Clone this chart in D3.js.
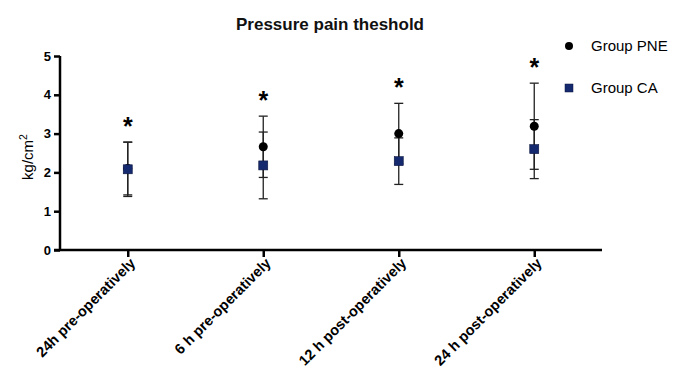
<!DOCTYPE html>
<html>
<head>
<meta charset="utf-8">
<script src="https://cdn.jsdelivr.net/npm/d3@7/dist/d3.min.js"></script>
<style>
  html, body { margin: 0; padding: 0; background: #ffffff; }
  svg { display: block; font-family: "Liberation Sans", Arial, Helvetica, sans-serif; }
</style>
</head>
<body>
<svg id="chart" width="685" height="387"></svg>
<script>
// ---- data ----
const categories = ["24h pre-operatively", "6 h pre-operatively", "12 h post-operatively", "24 h post-operatively"];
const pneMean = [2.10, 2.66, 3.00, 3.19];
const pneSD   = [0.68, 0.79, 0.78, 1.11];
const caMean  = [2.08, 2.18, 2.29, 2.60];
const caSD    = [0.70, 0.86, 0.60, 0.76];
const significant = [true, true, true, true];
const yTicks = [0, 1, 2, 3, 4, 5];
const seriesNames = ["Group PNE", "Group CA"];

(function () {
const svg = d3.select("#chart");
const pLeft = 60, pRight = 602, pTop = 56, pBottom = 250;

const x = d3.scalePoint().domain(categories).range([pLeft, pRight]).padding(0.5);
const y = d3.scaleLinear().domain([0, 5]).range([pBottom, pTop]);

// title
svg.append("text")
  .attr("x", 330).attr("y", 30)
  .attr("text-anchor", "middle")
  .attr("font-size", 17).attr("font-weight", "bold")
  .attr("fill", "#111")
  .text("Pressure pain theshold");

// y axis
const yAxis = svg.append("g")
  .attr("transform", `translate(${pLeft},0)`)
  .call(d3.axisLeft(y).tickValues(yTicks).tickSize(6).tickPadding(3).tickFormat(d3.format("d")));
yAxis.select(".domain").attr("stroke", "#000").attr("stroke-width", 2.5)
  .attr("d", `M0,${pTop}V${pBottom}`);
yAxis.selectAll(".tick line").attr("stroke", "#000").attr("stroke-width", 2.5);
yAxis.selectAll(".tick text").attr("font-size", 13).attr("font-weight", "bold").attr("fill", "#000")
  .attr("font-family", "Liberation Sans, Arial, sans-serif");

// x axis
const xAxis = svg.append("g")
  .attr("transform", `translate(0,${pBottom})`)
  .call(d3.axisBottom(x).tickSize(7).tickPadding(4));
xAxis.select(".domain").attr("stroke", "#000").attr("stroke-width", 2.5)
  .attr("d", `M${pLeft - 6},0H${pRight}`);
xAxis.selectAll(".tick line").attr("stroke", "#000").attr("stroke-width", 2.5);
xAxis.selectAll(".tick text")
  .attr("font-size", 14.5).attr("font-weight", "bold").attr("fill", "#000")
  .attr("font-family", "Liberation Sans, Arial, sans-serif")
  .attr("text-anchor", "end")
  .attr("dy", null)
  .attr("transform", "translate(8,14) rotate(-45)")
  .attr("y", 0).attr("x", 0);

// y label
svg.append("text")
  .attr("transform", "translate(33,157) rotate(-90)")
  .attr("text-anchor", "middle")
  .attr("font-size", 15).attr("fill", "#000")
  .html('kg/cm<tspan dy="-6" font-size="10.5">2</tspan>');

// error bars
const series = [
  { mean: pneMean, sd: pneSD },
  { mean: caMean, sd: caSD }
];
const capW = 4.5;
series.forEach(s => {
  const g = svg.append("g").attr("stroke", "#222").attr("stroke-width", 1.3);
  categories.forEach((c, i) => {
    const cx = x(c), hi = y(s.mean[i] + s.sd[i]), lo = y(s.mean[i] - s.sd[i]);
    g.append("line").attr("x1", cx).attr("x2", cx).attr("y1", hi).attr("y2", lo);
    g.append("line").attr("x1", cx - capW).attr("x2", cx + capW).attr("y1", hi).attr("y2", hi);
    g.append("line").attr("x1", cx - capW).attr("x2", cx + capW).attr("y1", lo).attr("y2", lo);
  });
});

// markers
svg.append("g").selectAll("circle").data(categories).join("circle")
  .attr("cx", d => x(d)).attr("cy", (d, i) => y(pneMean[i])).attr("r", 4.5)
  .attr("fill", "#000");
const sq = 9;
svg.append("g").selectAll("rect").data(categories).join("rect")
  .attr("x", d => x(d) - sq / 2).attr("y", (d, i) => y(caMean[i]) - sq / 2)
  .attr("width", sq).attr("height", sq)
  .attr("fill", "#14296e").attr("stroke", "#0b1540").attr("stroke-width", 0.6);

// significance stars
svg.append("g").selectAll("text").data(categories.filter((c, i) => significant[i])).join("text")
  .attr("x", d => x(d))
  .attr("y", d => {
    const i = categories.indexOf(d);
    const hiVal = Math.max(pneMean[i] + pneSD[i], caMean[i] + caSD[i]);
    return y(hiVal) - 21 + 14;
  })
  .attr("text-anchor", "middle")
  .attr("font-size", 25).attr("font-weight", "bold").attr("fill", "#000")
  .text("*");

// legend
const lg = svg.append("g");
lg.append("circle").attr("cx", 569).attr("cy", 46).attr("r", 4).attr("fill", "#000");
lg.append("rect").attr("x", 565).attr("y", 84).attr("width", 8).attr("height", 8)
  .attr("fill", "#14296e").attr("stroke", "#0b1540").attr("stroke-width", 0.5);
lg.selectAll("text").data(seriesNames).join("text")
  .attr("x", 591).attr("y", (d, i) => 51 + i * 42)
  .attr("font-size", 15).attr("fill", "#000")
  .text(d => d);
})();
</script>
</body>
</html>
